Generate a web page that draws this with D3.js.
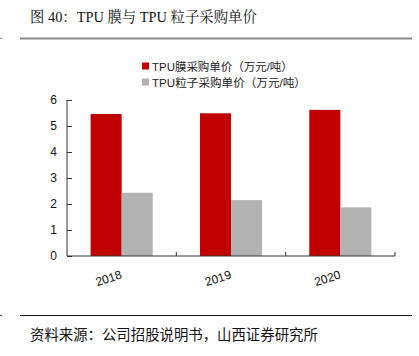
<!DOCTYPE html>
<html><head><meta charset="utf-8">
<script src="https://cdn.jsdelivr.net/npm/d3@7"></script>
<style>
body{margin:0;background:#fff;}
svg{display:block;}
</style></head>
<body>
<svg id="c" width="419" height="356"></svg>
<script>
const title = "图 40：TPU 膜与 TPU 粒子采购单价";
const source = "资料来源：公司招股说明书，山西证券研究所";
const categories = ["2018", "2019", "2020"];
const seriesNames = ["TPU膜采购单价（万元/吨）", "TPU粒子采购单价（万元/吨）"];
const filmPrice = [5.46, 5.49, 5.62];
const pelletPrice = [2.43, 2.15, 1.87];
const yTicks = [0, 1, 2, 3, 4, 5, 6];
const colors = ["#C00000", "#B3B3B3"];

const svg = d3.select("#c");
const series = [filmPrice, pelletPrice];

// fit a text element's font size so its rendered width matches target
function fit(sel, size, target) {
  sel.attr("font-size", size);
  const w = sel.node().getComputedTextLength();
  if (w > 0) sel.attr("font-size", (size * target / w).toFixed(2));
  return sel;
}

// title
const t = svg.append("text").attr("x", 30).attr("y", 22)
  .attr("font-family", "'Liberation Serif','Noto Serif CJK SC','Noto Sans CJK SC',serif")
  .attr("fill", "#111").text(title);
fit(t, 14, 227);
svg.append("line").attr("x1", 20).attr("x2", 412).attr("y1", 38.5).attr("y2", 38.5)
  .attr("stroke", "#888").attr("stroke-width", 2);
svg.append("line").attr("x1", 0).attr("x2", 2).attr("y1", 38.5).attr("y2", 38.5)
  .attr("stroke", "#999").attr("stroke-width", 1);

// scales
const x0 = d3.scaleBand().domain(categories).range([67, 395]).padding(0);
const x1 = d3.scaleBand().domain([0, 1]).range([0, x0.bandwidth()]).paddingInner(0).paddingOuter(0.76);
const y = d3.scaleLinear().domain([0, 6]).range([256, 100]);

// bars
const g = svg.append("g");
categories.forEach((c, i) => {
  series.forEach((s, j) => {
    g.append("rect")
      .attr("x", x0(c) + x1(j))
      .attr("y", y(s[i]))
      .attr("width", x1.bandwidth())
      .attr("height", y(0) - y(s[i]))
      .attr("fill", colors[j]);
  });
});

// y axis
const yAxis = svg.append("g").attr("transform", "translate(67,0)")
  .call(d3.axisLeft(y).tickValues(yTicks).tickSize(-5).tickPadding(10).tickFormat(d3.format("d")));
yAxis.select(".domain").attr("d", "M0," + y(6) + "V" + y(0)).attr("stroke", "#333");
yAxis.selectAll(".tick line").attr("stroke", "#333");
yAxis.selectAll("text").attr("font-family", "'Liberation Sans',Arial,sans-serif").attr("font-size", 12).attr("fill", "#111");

// x axis
const xAxis = svg.append("g").attr("transform", "translate(0,256)")
  .call(d3.axisBottom(x0).tickSize(0).tickFormat(""));
xAxis.select(".domain").attr("d", "M67,0H395V-4").attr("stroke", "#333").attr("fill", "none");
const bounds = [x0("2019"), x0("2020")];
xAxis.selectAll(".sep").data(bounds).enter().append("line")
  .attr("x1", d => d).attr("x2", d => d).attr("y1", 0).attr("y2", -4).attr("stroke", "#333");
xAxis.selectAll(".lbl").data(categories).enter().append("text")
  .attr("transform", d => "translate(" + (x0(d) + x0.bandwidth() / 2 + 1) + ",22) rotate(-18)")
  .attr("text-anchor", "end")
  .attr("font-family", "'Liberation Sans',Arial,sans-serif").attr("font-size", 12).attr("fill", "#111")
  .text(d => d);

// legend
const lg = svg.append("g");
const legendWidths = [141, 154];
seriesNames.forEach((n, j) => {
  lg.append("rect").attr("x", 142).attr("y", 62.5 + j * 16).attr("width", 7).attr("height", 7).attr("fill", colors[j]);
  const lt = lg.append("text").attr("x", 152).attr("y", 70.5 + j * 16)
    .attr("font-family", "'Liberation Sans','Noto Sans CJK SC',sans-serif")
    .attr("fill", "#222").text(n);
  fit(lt, 12, legendWidths[j]);
});

// footer
svg.append("line").attr("x1", 20).attr("x2", 412).attr("y1", 315.5).attr("y2", 315.5)
  .attr("stroke", "#111").attr("stroke-width", 1);
svg.append("line").attr("x1", 0).attr("x2", 2).attr("y1", 315.5).attr("y2", 315.5)
  .attr("stroke", "#555").attr("stroke-width", 1);
const ft = svg.append("text").attr("x", 30).attr("y", 340)
  .attr("font-family", "'Noto Sans CJK SC',sans-serif").attr("fill", "#111").text(source);
fit(ft, 14, 288);
</script>
</body></html>
